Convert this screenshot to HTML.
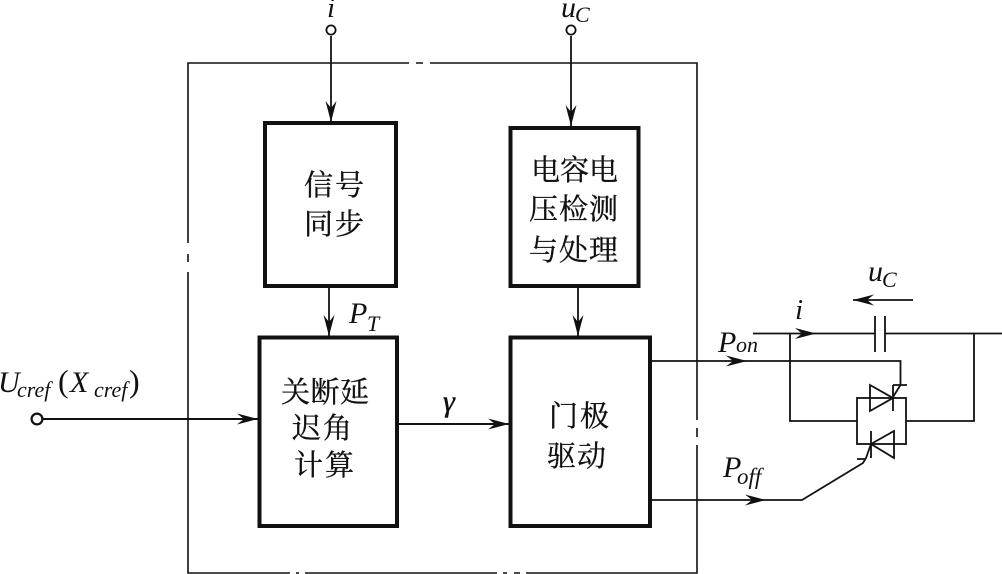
<!DOCTYPE html>
<html><head><meta charset="utf-8"><style>
html,body{margin:0;padding:0;background:#fff}
svg{display:block}
.z{font-family:"Liberation Serif","Noto Serif CJK SC",serif;font-size:29px;fill:#111;stroke:#111;stroke-width:.35px}
.m{font-family:"Liberation Serif",serif;font-style:italic;fill:#111}
</style></head><body>
<svg width="1002" height="574" viewBox="0 0 1002 574" xmlns="http://www.w3.org/2000/svg">
<defs>
<path id="ar" d="M0 0L-21 -5.5L-14 0L-21 5.5Z" fill="#111"/>
</defs>
<g fill="none" stroke="#111" stroke-width="1.6">
<path d="M403 63H188V243M188 254V262M188 272V573H290M296 573H299M305 573H497M503 573H507M514 573H520M526 573H697V445M697 437V428M697 420V63H430M423 63H416M409 63H403"/>
</g>
<g fill="none" stroke="#111" stroke-width="4">
<rect x="265" y="123" width="131" height="163"/>
<rect x="510.5" y="128" width="128" height="158"/>
<rect x="259.5" y="337.5" width="137.5" height="188.5"/>
<rect x="510.5" y="337.5" width="139.5" height="188.5"/>
</g>
<g fill="none" stroke="#111" stroke-width="1.8">
<path d="M331 36V122"/>
<path d="M571 36V126"/>
<path d="M329 287V336"/>
<path d="M578 287V336"/>
<path d="M43 419H258" stroke-width="2"/>
<path d="M398 424H509" stroke-width="2"/>
<path d="M651 361H900.5V385M893 385H907M900.5 385L893 397"/>
<path d="M651 500H802L863 463L866 458L871 444M857 459H866"/>
<path d="M753 333.5H875M885 333.5H1002"/>
<path d="M875 316V352M885 316V352"/>
<path d="M790 333.5V421H857M974 333.5V421H906"/>
<rect x="857" y="398" width="49" height="46"/>
<path d="M870 385V411L893 398ZM893 385V411"/>
<path d="M894 431V458L871 444ZM871 431V458"/>
<path d="M853 300H913"/>
<circle cx="331" cy="30" r="4.6" fill="#fff"/>
<circle cx="571" cy="30" r="4.6" fill="#fff"/>
<circle cx="37" cy="419" r="5.4" fill="#fff" stroke-width="2.2"/>
</g>
<use href="#ar" transform="translate(331,122) rotate(90)"/>
<use href="#ar" transform="translate(571,126) rotate(90)"/>
<use href="#ar" transform="translate(329,336) rotate(90)"/>
<use href="#ar" transform="translate(578,336) rotate(90)"/>
<use href="#ar" transform="translate(258,419)"/>
<use href="#ar" transform="translate(509,424)"/>
<use href="#ar" transform="translate(747,361)"/>
<use href="#ar" transform="translate(766,500)"/>
<use href="#ar" transform="translate(816,333.5)"/>
<use href="#ar" transform="translate(853,300) rotate(180)"/>
<g class="z">
<text x="304" y="195" textLength="60">信号</text>
<text x="304" y="234" textLength="60">同步</text>
<text x="531" y="180" textLength="87">电容电</text>
<text x="529" y="219" textLength="89">压检测</text>
<text x="529" y="260" textLength="89">与处理</text>
<text x="281" y="402" textLength="88">关断延</text>
<text x="292" y="438" textLength="60">迟角</text>
<text x="294" y="475" textLength="60">计算</text>
<text x="549" y="426" textLength="60">门极</text>
<text x="547" y="466" textLength="59">驱动</text>
</g>
<g class="m">
<text x="327" y="17" font-size="29">i</text>
<text x="561" y="17" font-size="30">u</text><text x="575" y="22" font-size="22">C</text>
<text x="868" y="281" font-size="30">u</text><text x="882" y="287" font-size="22">C</text>
<text x="795" y="319" font-size="29">i</text>
<text x="349" y="323" font-size="30">P</text><text x="367" y="331" font-size="22">T</text>
<text x="718" y="352" font-size="30">P</text><text x="736" y="352" font-size="22">on</text>
<text x="723" y="477" font-size="30">P</text><text x="737" y="484" font-size="23">off</text>
<text x="443" y="411" font-size="30" style="stroke:#111;stroke-width:.5px">γ</text>
<text x="-2" y="392" font-size="30">U</text><text x="17" y="397" font-size="22">cref</text>
<text x="58" y="392" font-size="32" style="font-style:normal">(</text>
<text x="70" y="392" font-size="30">X</text><text x="94" y="397" font-size="22">cref</text>
<text x="129" y="392" font-size="32" style="font-style:normal">)</text>
</g>
</svg>
</body></html>
